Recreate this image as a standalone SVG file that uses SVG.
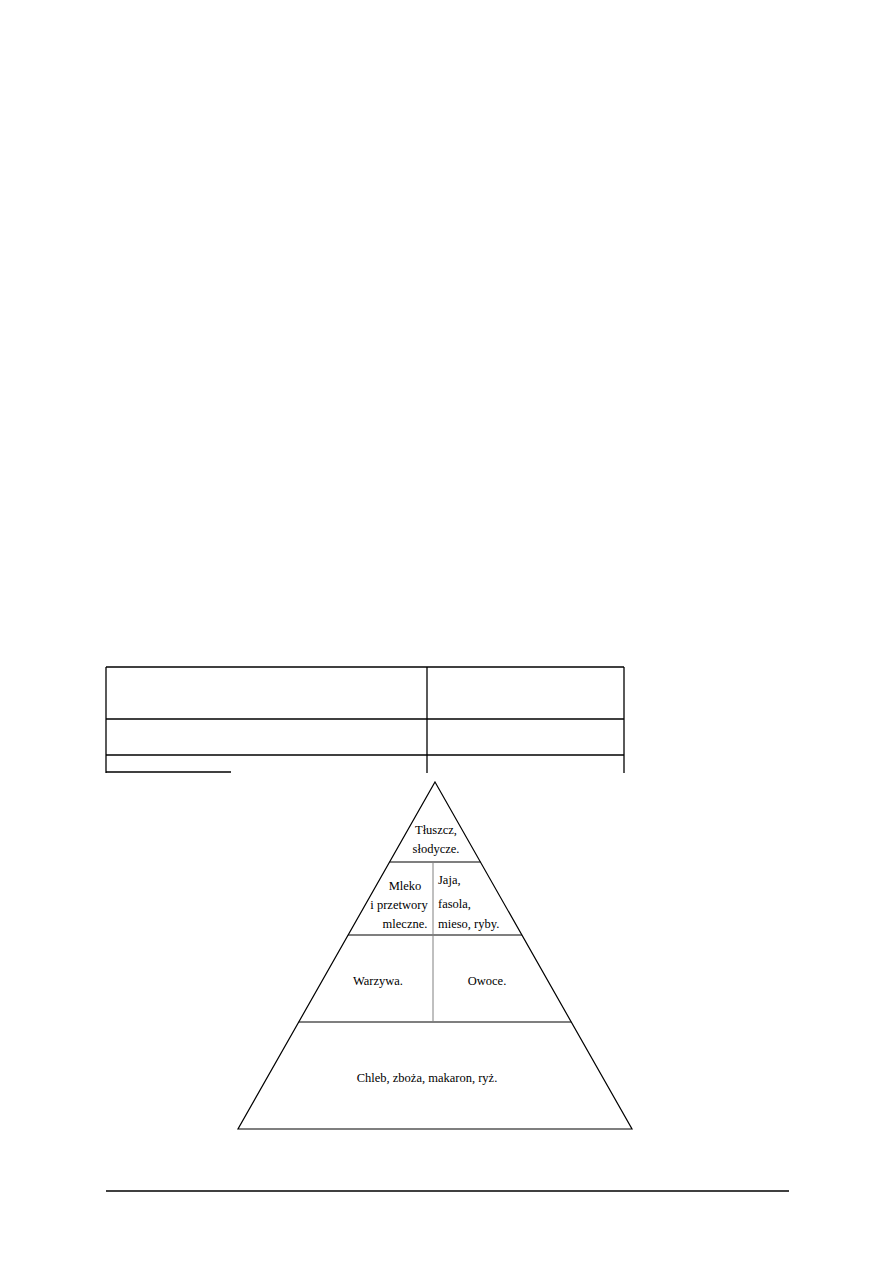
<svg xmlns="http://www.w3.org/2000/svg" width="893" height="1263" viewBox="0 0 893 1263">
<style>
.ln{stroke:#000;stroke-width:1.2;fill:none}
.tb{stroke:#000;stroke-width:1.3;fill:none}
.gr{stroke:#808080;stroke-width:1;fill:none}
text{font-family:"Liberation Serif","Times New Roman",serif;font-size:12.5px;fill:#000}
.c{text-anchor:middle}
</style>
<rect width="893" height="1263" fill="#fff"/>
<g id="table">
<line class="tb" x1="106" y1="667" x2="624" y2="667"/>
<line class="tb" x1="106" y1="719" x2="624" y2="719"/>
<line class="tb" x1="106" y1="755" x2="624" y2="755"/>
<line class="tb" x1="106" y1="667" x2="106" y2="773"/>
<line class="tb" x1="427" y1="667" x2="427" y2="773"/>
<line class="tb" x1="624" y1="667" x2="624" y2="773"/>
<line class="tb" x1="106" y1="772" x2="231" y2="772"/>
</g>
<g id="pyramid">
<polygon class="ln" points="435,782 632,1129 238,1129"/>
</g>
<g id="connectors">
<line class="ln" x1="389.6" y1="862" x2="480.4" y2="862"/>
<line class="ln" x1="348.1" y1="935" x2="521.9" y2="935"/>
<line class="ln" x1="298.8" y1="1022" x2="571.2" y2="1022"/>
<line class="gr" x1="433" y1="862" x2="433" y2="1022"/>
</g>
<g id="tluszcz">
<text class="c" x="436" y="834">Tłuszcz,</text>
<text class="c" x="436" y="853">słodycze.</text>
</g>
<g id="mleko">
<text class="c" x="405" y="890">Mleko</text>
<text class="c" x="399" y="909">i przetwory</text>
<text class="c" x="405" y="928">mleczne.</text>
</g>
<g id="jaja">
<text x="438" y="884">Jaja,</text>
<text x="438" y="908">fasola,</text>
<text x="438" y="928">mieso, ryby.</text>
</g>
<g id="warzywa">
<text class="c" x="378" y="985">Warzywa.</text>
</g>
<g id="owoce">
<text class="c" x="487" y="985">Owoce.</text>
</g>
<g id="chleb">
<text class="c" x="427" y="1082">Chleb, zboża, makaron, ryż.</text>
</g>
<g id="footer">
<line class="tb" x1="106" y1="1191" x2="789" y2="1191"/>
</g>
</svg>
